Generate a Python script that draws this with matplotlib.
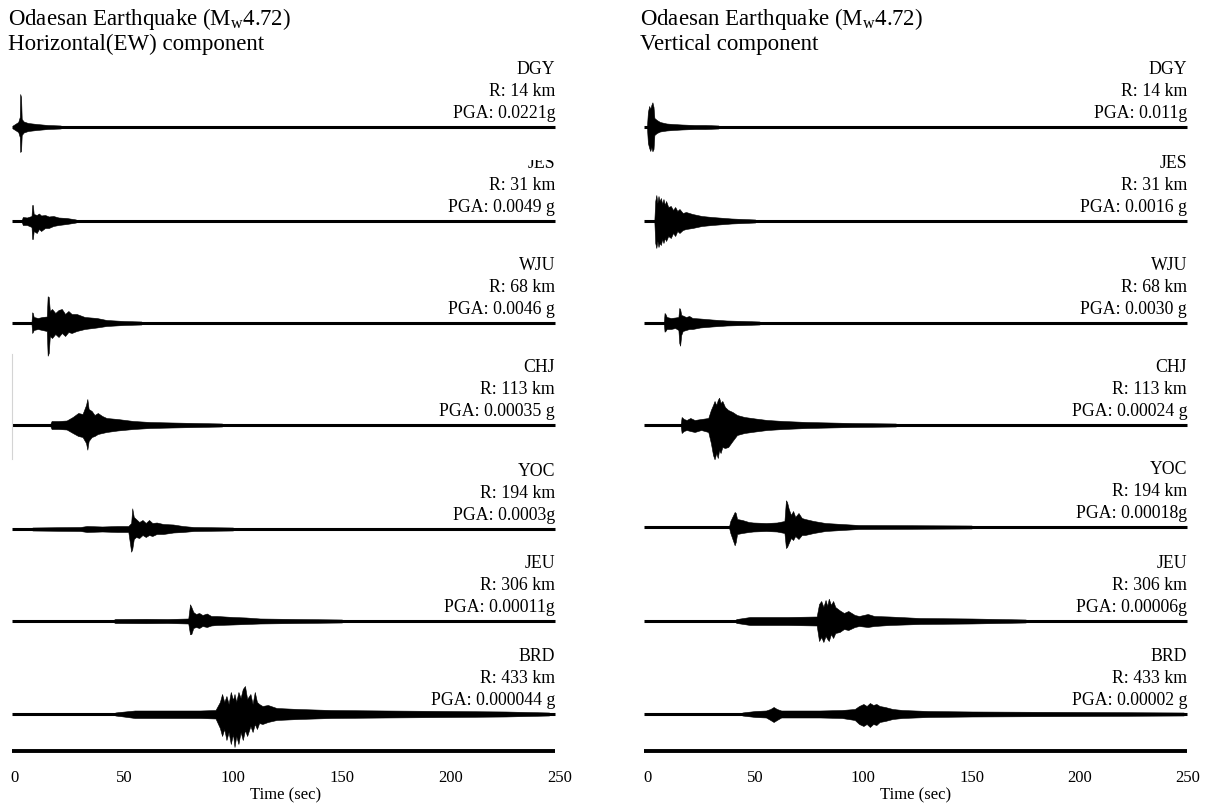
import matplotlib.pyplot as plt
from matplotlib.transforms import Bbox, TransformedBbox

plt.rcParams["font.family"] = ["Liberation Serif", "DejaVu Serif"]
plt.rcParams["mathtext.fontset"] = "custom"
plt.rcParams["mathtext.rm"] = "Liberation Serif"
plt.rcParams["mathtext.it"] = "Liberation Serif:italic"

# stations, epicentral distance and peak ground acceleration
stations = ["DGY", "JES", "WJU", "CHJ", "YOC", "JEU", "BRD"]
dist_km = [14, 31, 68, 113, 194, 306, 433]
pga_ew = ["0.0221g", "0.0049 g", "0.0046 g", "0.00035 g", "0.0003g", "0.00011g", "0.000044 g"]
pga_ud = ["0.011g", "0.0016 g", "0.0030 g", "0.00024 g", "0.00018g", "0.00006g", "0.00002 g"]

# normalised record envelopes: time (s), upper and lower amplitude
# --- horizontal (EW) ---
dgy_ew_t = [-1.0, 1.5, 2.2, 2.4, 2.8, 3.1, 4.0, 6, 10, 15, 21]
dgy_ew_up = [0.015, 0.05, 0.10, 0.33, 0.30, 0.08, 0.055, 0.04, 0.03, 0.02, 0.015]
dgy_ew_lo = [0.015, 0.05, 0.10, 0.25, 0.24, 0.08, 0.055, 0.04, 0.03, 0.02, 0.015]

jes_ew_t = [3.2, 3.6, 5.5, 7.6, 7.9, 8.2, 8.6, 10, 11, 12, 13.8, 15.5, 17.6, 20, 23.7, 28]
jes_ew_up = [0.015, 0.04, 0.035, 0.05, 0.16, 0.16, 0.07, 0.06, 0.075, 0.055, 0.06, 0.045, 0.05, 0.035, 0.03, 0.015]
jes_ew_lo = [0.015, 0.04, 0.04, 0.06, 0.18, 0.18, 0.10, 0.12, 0.08, 0.10, 0.07, 0.07, 0.05, 0.04, 0.03, 0.015]

wju_ew_t = [7.6, 7.9, 8.2, 8.6, 10.5, 12.5, 14.6, 15.0, 15.5, 16.0, 17, 18.5, 20, 21.5, 23, 24.5, 26, 28.3, 32, 37.5, 42, 50, 58]
wju_ew_up = [0.015, 0.107, 0.10, 0.06, 0.05, 0.06, 0.065, 0.267, 0.26, 0.12, 0.14, 0.10, 0.13, 0.14, 0.09, 0.12, 0.09, 0.09, 0.06, 0.05, 0.03, 0.02, 0.015]
wju_ew_lo = [0.015, 0.10, 0.09, 0.07, 0.06, 0.07, 0.08, 0.327, 0.30, 0.13, 0.15, 0.11, 0.14, 0.10, 0.13, 0.09, 0.10, 0.08, 0.06, 0.045, 0.03, 0.02, 0.015]

chj_ew_t = [16.3, 16.8, 20, 23.7, 26.5, 29.0, 31, 32.6, 33.2, 33.8, 35.2, 36.5, 38, 40, 42, 47, 54.3, 62, 72, 95]
chj_ew_up = [0.015, 0.04, 0.04, 0.045, 0.08, 0.12, 0.11, 0.20, 0.26, 0.16, 0.14, 0.10, 0.12, 0.09, 0.07, 0.06, 0.04, 0.03, 0.025, 0.015]
chj_ew_lo = [0.015, 0.04, 0.04, 0.045, 0.08, 0.11, 0.12, 0.18, 0.247, 0.16, 0.12, 0.11, 0.09, 0.08, 0.07, 0.055, 0.04, 0.03, 0.025, 0.015]

yoc_ew_t = [8, 20, 30, 33, 40, 47, 52, 53.3, 53.8, 54.5, 55.5, 57, 58.5, 60, 61.5, 63, 65, 68, 72.6, 77, 82, 100]
yoc_ew_up = [0.015, 0.018, 0.02, 0.03, 0.025, 0.03, 0.03, 0.06, 0.207, 0.12, 0.10, 0.07, 0.09, 0.06, 0.09, 0.06, 0.065, 0.05, 0.045, 0.03, 0.02, 0.015]
yoc_ew_lo = [0.015, 0.018, 0.02, 0.03, 0.025, 0.03, 0.03, 0.227, 0.20, 0.10, 0.08, 0.09, 0.06, 0.08, 0.06, 0.07, 0.05, 0.05, 0.035, 0.03, 0.02, 0.015]

jeu_ew_t = [45.5, 46, 60, 70, 79.5, 80.3, 80.9, 81.8, 83, 84.5, 86, 88, 90, 92.5, 100, 106, 112.4, 130, 150]
jeu_ew_up = [0.015, 0.02, 0.022, 0.02, 0.025, 0.167, 0.14, 0.09, 0.07, 0.08, 0.06, 0.075, 0.05, 0.05, 0.04, 0.035, 0.025, 0.02, 0.015]
jeu_ew_lo = [0.015, 0.02, 0.022, 0.02, 0.025, 0.133, 0.13, 0.07, 0.06, 0.07, 0.05, 0.06, 0.045, 0.04, 0.035, 0.03, 0.025, 0.02, 0.015]

brd_ew_t = [46, 48, 55, 70, 85, 92, 94, 95, 96, 97, 98, 99, 100, 100.7, 101.5, 102.5, 103.5, 104.5, 105.5, 106.5, 108, 109, 110, 111, 112, 113.5, 116, 120, 130, 145, 170, 200, 225, 245]
brd_ew_up = [0.015, 0.02, 0.035, 0.035, 0.035, 0.04, 0.12, 0.20, 0.12, 0.18, 0.10, 0.22, 0.14, 0.20, 0.12, 0.22, 0.16, 0.25, 0.28, 0.15, 0.20, 0.10, 0.22, 0.12, 0.10, 0.08, 0.09, 0.06, 0.05, 0.04, 0.035, 0.03, 0.025, 0.015]
brd_ew_lo = [0.015, 0.02, 0.04, 0.04, 0.04, 0.045, 0.14, 0.22, 0.15, 0.26, 0.18, 0.30, 0.20, 0.33, 0.22, 0.30, 0.18, 0.26, 0.16, 0.22, 0.12, 0.18, 0.10, 0.15, 0.09, 0.10, 0.08, 0.06, 0.05, 0.04, 0.035, 0.03, 0.025, 0.015]

# --- vertical ---
dgy_ud_t = [0.0, 0.4, 1.0, 1.5, 2.0, 2.5, 3.0, 3.4, 4.5, 6.0, 9, 12, 16, 22, 27, 33]
dgy_ud_up = [0.015, 0.15, 0.21, 0.18, 0.22, 0.247, 0.20, 0.09, 0.07, 0.05, 0.035, 0.03, 0.025, 0.02, 0.02, 0.015]
dgy_ud_lo = [0.015, 0.16, 0.21, 0.24, 0.20, 0.243, 0.22, 0.08, 0.06, 0.045, 0.035, 0.03, 0.025, 0.02, 0.02, 0.015]

jes_ud_t = [3.4, 3.8, 4.3, 4.8, 5.3, 5.8, 6.4, 7.0, 7.6, 8.2, 8.8, 9.8, 11, 12, 13, 14, 15, 16.5, 18, 21, 25.3, 30, 39, 50]
jes_ud_up = [0.015, 0.20, 0.26, 0.18, 0.25, 0.20, 0.23, 0.17, 0.22, 0.16, 0.20, 0.14, 0.15, 0.11, 0.14, 0.10, 0.12, 0.08, 0.09, 0.07, 0.05, 0.04, 0.025, 0.015]
jes_ud_lo = [0.015, 0.22, 0.27, 0.20, 0.26, 0.22, 0.24, 0.18, 0.22, 0.17, 0.20, 0.15, 0.17, 0.12, 0.15, 0.10, 0.12, 0.09, 0.08, 0.07, 0.05, 0.04, 0.025, 0.015]

wju_ud_t = [7.8, 8.1, 8.5, 9.1, 11, 13, 14.5, 14.9, 15.3, 15.8, 16.5, 18, 19.5, 21, 24.5, 30, 36.8, 45, 52]
wju_ud_up = [0.015, 0.10, 0.09, 0.06, 0.05, 0.055, 0.06, 0.15, 0.14, 0.08, 0.075, 0.06, 0.07, 0.05, 0.045, 0.035, 0.025, 0.02, 0.015]
wju_ud_lo = [0.015, 0.087, 0.08, 0.06, 0.06, 0.05, 0.07, 0.20, 0.227, 0.12, 0.08, 0.07, 0.06, 0.06, 0.045, 0.035, 0.025, 0.02, 0.015]

chj_ud_t = [15.6, 16.0, 17, 18.3, 20, 22, 25, 28.3, 29.5, 30.5, 31.2, 32, 32.7, 33.3, 34.0, 34.8, 36, 37.5, 39.5, 41.6, 45, 50, 55.5, 63, 74, 95, 115]
chj_ud_up = [0.015, 0.08, 0.06, 0.05, 0.07, 0.05, 0.06, 0.07, 0.15, 0.20, 0.24, 0.20, 0.25, 0.273, 0.22, 0.24, 0.18, 0.15, 0.13, 0.10, 0.08, 0.065, 0.05, 0.04, 0.03, 0.02, 0.015]
chj_ud_lo = [0.015, 0.08, 0.06, 0.05, 0.06, 0.07, 0.05, 0.07, 0.18, 0.30, 0.343, 0.28, 0.33, 0.25, 0.28, 0.22, 0.23, 0.22, 0.16, 0.10, 0.08, 0.065, 0.05, 0.04, 0.03, 0.02, 0.015]

yoc_ud_t = [38.0, 38.5, 40.5, 41.0, 41.6, 44, 47, 49, 55, 60, 63.5, 64.2, 64.7, 65.5, 66.5, 67.5, 68.5, 70, 71.5, 73, 77, 82.4, 90, 97.8, 120, 150]
yoc_ud_up = [0.015, 0.06, 0.15, 0.14, 0.08, 0.07, 0.05, 0.045, 0.04, 0.045, 0.06, 0.267, 0.25, 0.18, 0.12, 0.16, 0.10, 0.14, 0.09, 0.08, 0.06, 0.04, 0.03, 0.02, 0.018, 0.015]
yoc_ud_lo = [0.015, 0.06, 0.183, 0.15, 0.07, 0.06, 0.05, 0.045, 0.04, 0.045, 0.06, 0.21, 0.20, 0.16, 0.11, 0.13, 0.09, 0.12, 0.08, 0.08, 0.06, 0.04, 0.03, 0.02, 0.018, 0.015]

jeu_ud_t = [41.0, 41.5, 47.6, 55, 65, 78.4, 79.5, 80.5, 81.5, 82.5, 83.3, 84, 85, 86, 87, 89, 91, 93, 96, 98, 102, 105, 112, 126, 150, 175]
jeu_ud_up = [0.015, 0.02, 0.04, 0.04, 0.04, 0.045, 0.17, 0.20, 0.14, 0.21, 0.15, 0.223, 0.16, 0.20, 0.14, 0.107, 0.08, 0.10, 0.06, 0.05, 0.07, 0.05, 0.045, 0.03, 0.025, 0.015]
jeu_ud_lo = [0.015, 0.02, 0.04, 0.04, 0.04, 0.045, 0.20, 0.16, 0.21, 0.15, 0.18, 0.20, 0.13, 0.17, 0.12, 0.11, 0.08, 0.09, 0.06, 0.05, 0.06, 0.05, 0.04, 0.03, 0.025, 0.015]

brd_ud_t = [44, 46, 50, 55, 57, 58.5, 60, 62, 70, 80, 90, 96, 98, 100, 101.5, 103, 104.5, 106, 107.5, 110, 113.5, 118, 130, 150, 180, 220, 248]
brd_ud_up = [0.015, 0.02, 0.03, 0.035, 0.05, 0.07, 0.05, 0.035, 0.035, 0.035, 0.04, 0.05, 0.08, 0.10, 0.08, 0.11, 0.09, 0.10, 0.08, 0.07, 0.05, 0.04, 0.03, 0.025, 0.022, 0.018, 0.015]
brd_ud_lo = [0.015, 0.02, 0.03, 0.035, 0.06, 0.08, 0.06, 0.035, 0.035, 0.035, 0.04, 0.06, 0.10, 0.12, 0.10, 0.13, 0.10, 0.11, 0.08, 0.07, 0.05, 0.04, 0.03, 0.025, 0.022, 0.018, 0.015]

ew_records = [
    (dgy_ew_t, dgy_ew_up, dgy_ew_lo), (jes_ew_t, jes_ew_up, jes_ew_lo),
    (wju_ew_t, wju_ew_up, wju_ew_lo), (chj_ew_t, chj_ew_up, chj_ew_lo),
    (yoc_ew_t, yoc_ew_up, yoc_ew_lo), (jeu_ew_t, jeu_ew_up, jeu_ew_lo),
    (brd_ew_t, brd_ew_up, brd_ew_lo),
]
ud_records = [
    (dgy_ud_t, dgy_ud_up, dgy_ud_lo), (jes_ud_t, jes_ud_up, jes_ud_lo),
    (wju_ud_t, wju_ud_up, wju_ud_lo), (chj_ud_t, chj_ud_up, chj_ud_lo),
    (yoc_ud_t, yoc_ud_up, yoc_ud_lo), (jeu_ud_t, jeu_ud_up, jeu_ud_lo),
    (brd_ud_t, brd_ud_up, brd_ud_lo),
]

# vertical position of each trace (one unit = one trace slot)
offsets_ew = [6.24, 5.30, 4.28, 3.26, 2.22, 1.30, 0.37]
offsets_ud = [6.24, 5.30, 4.28, 3.26, 2.24, 1.30, 0.37]

W, H = 1210, 804
fig = plt.figure(figsize=(W / 100, H / 100), dpi=100)
fig.patch.set_facecolor("white")


def panel(left_px, width_px, records, offsets, pgas, t_end, header):
    ax = fig.add_axes([left_px / W, 44 / H, width_px / W, 700 / H])
    ax.set_xlim(-2, 250)
    ax.set_ylim(-0.08, 6.92)
    for sp in ax.spines.values():
        sp.set_visible(False)
    ax.set_yticks([])
    ax.set_xticks([0, 50, 100, 150, 200, 250])
    ax.tick_params(axis="x", length=0, pad=7.5, labelsize=12)
    ax.set_xlabel("Time (sec)", fontsize=12, labelpad=1)

    names = []
    for (t, up, lo), off, st, r, pga in zip(records, offsets, stations, dist_km, pgas):
        ax.plot([-1.2, t_end], [off, off], color="black", lw=2.2,
                solid_capstyle="butt")
        ax.fill_between(t, [off + u for u in up], [off - l for l in lo],
                        color="black", lw=0.4)
        names.append(ax.text(t_end, off + 0.54, st, ha="right",
                             va="baseline", fontsize=12.8))
        ax.text(t_end, off + 0.32, f"R: {r} km", ha="right", va="baseline",
                fontsize=12.8)
        ax.text(t_end, off + 0.10, f"PGA: {pga}", ha="right", va="baseline",
                fontsize=12.8)

    # bottom time axis line
    ax.plot([-1.2, t_end], [0, 0], color="black", lw=2.8, solid_capstyle="butt")

    x0 = (left_px - 3) / W
    fig.text(x0, 1 - 25 / H, "Odaesan Earthquake ($\\mathrm{M_w}$4.72)",
             fontsize=16.5, va="baseline", ha="left")
    fig.text(x0, 1 - 50 / H, header, fontsize=16.5, va="baseline", ha="left")
    return ax, names


ax_ew, names_ew = panel(10.6, 549.4, ew_records, offsets_ew, pga_ew, 247.8,
                        "Horizontal(EW) component")
ax_ud, names_ud = panel(642.7, 545.3, ud_records, offsets_ud, pga_ud, 249.6,
                        "Vertical component")

# the JES station name on the EW panel is cut off along its top edge
jes_off = offsets_ew[1]
names_ew[1].set_clip_box(TransformedBbox(
    Bbox([[150, jes_off], [260, jes_off + 0.61]]), ax_ew.transData))
names_ew[1].set_clip_on(True)

# faint stray vertical rule beside the CHJ trace
ax_ew.plot([-1.4, -1.4], [2.92, 3.97], color="#d4d4d4", lw=0.8)

fig.savefig("out.png", dpi=100, facecolor="white")
